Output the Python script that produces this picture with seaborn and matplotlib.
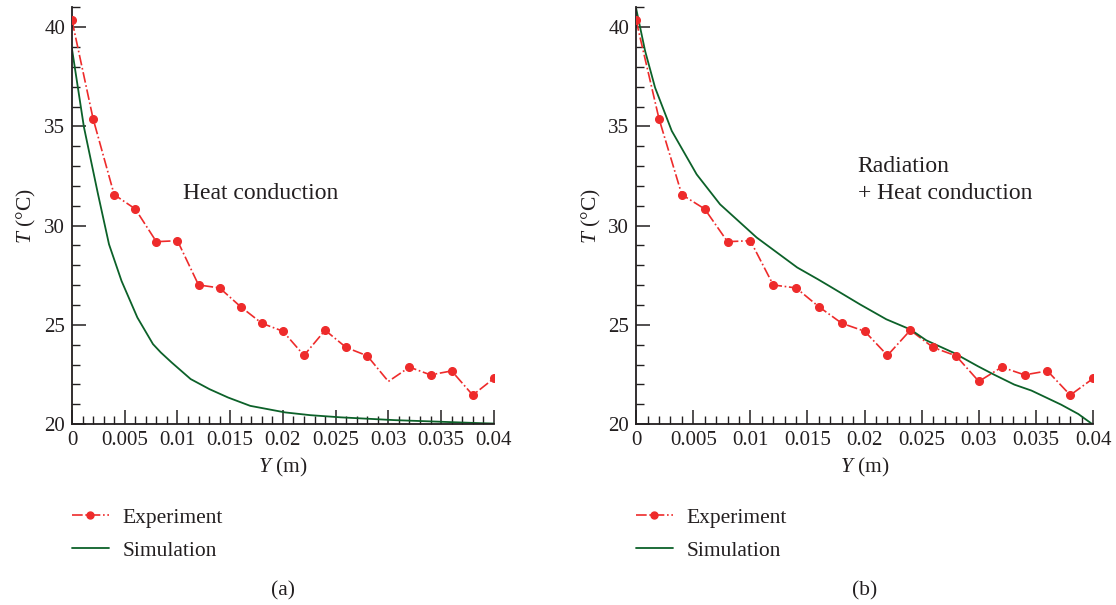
import matplotlib
matplotlib.use("Agg")
import matplotlib.pyplot as plt
from matplotlib.lines import Line2D
from matplotlib.ticker import MultipleLocator, FuncFormatter
import seaborn as sns
import pandas as pd

# --- data ---
exp_y = [0.0, 0.002, 0.004, 0.006, 0.008, 0.010, 0.012, 0.014, 0.016, 0.018,
         0.020, 0.022, 0.024, 0.026, 0.028, 0.030, 0.032, 0.034, 0.036, 0.038, 0.040]
exp_t = [40.34, 35.39, 31.56, 30.84, 29.19, 29.24, 27.01, 26.86, 25.91, 25.08,
         24.68, 23.46, 24.73, 23.86, 23.44, 22.15, 22.87, 22.48, 22.68, 21.46, 22.30]
# panel (a) has no marker at 0.03
exp_marked_a = [True] * 15 + [False] + [True] * 5

sim_a_y = [0.0, 0.00113, 0.00247, 0.00351, 0.0047, 0.0062, 0.00768, 0.00842,
           0.00946, 0.01125, 0.01304, 0.0148, 0.0169, 0.0202, 0.0226, 0.0255,
           0.0306, 0.0386, 0.040]
sim_a_t = [38.9, 34.97, 31.58, 29.06, 27.21, 25.37, 24.03, 23.61,
           23.1, 22.27, 21.76, 21.34, 20.92, 20.59, 20.45, 20.34,
           20.2, 20.05, 20.03]

sim_b_y = [0.0, 0.00079, 0.00166, 0.00312, 0.0053, 0.00735, 0.01055, 0.0141,
           0.0159, 0.0169, 0.0196, 0.0219, 0.024, 0.0254, 0.0278, 0.0299,
           0.0313, 0.0331, 0.0346, 0.0372, 0.0387, 0.040]
sim_b_t = [40.94, 38.79, 36.95, 34.77, 32.58, 31.07, 29.4, 27.89,
           27.30, 26.96, 26.03, 25.28, 24.77, 24.22, 23.59, 22.92,
           22.5, 21.99, 21.69, 20.98, 20.51, 19.97]

panel_notes = [["Heat conduction"], ["Radiation", "+ Heat conduction"]]
panel_tags = ["(a)", "(b)"]

RED = "#ee2b2b"
GREEN = "#0c6129"
INK = "#231f20"

sns.set_style("ticks")
plt.rcParams["font.family"] = ["Liberation Serif", "DejaVu Serif"]
plt.rcParams["mathtext.fontset"] = "custom"
plt.rcParams["mathtext.rm"] = "Liberation Serif"
plt.rcParams["mathtext.it"] = "Liberation Serif:italic"
plt.rcParams["text.color"] = INK
plt.rcParams["axes.labelcolor"] = INK
plt.rcParams["xtick.color"] = INK
plt.rcParams["ytick.color"] = INK

fig = plt.figure(figsize=(11.16, 6.05), dpi=100)
axes = [fig.add_axes([0.0645, 0.299, 0.378, 0.689]),
        fig.add_axes([0.570, 0.299, 0.4095, 0.689])]

exp_df = pd.DataFrame({"Y": exp_y, "T": exp_t})
sims = [pd.DataFrame({"Y": sim_a_y, "T": sim_a_t}),
        pd.DataFrame({"Y": sim_b_y, "T": sim_b_t})]

for i, ax in enumerate(axes):
    # experiment: dash-dot line plus dots
    sns.lineplot(data=exp_df, x="Y", y="T", ax=ax, color=RED, linestyle="-.",
                 linewidth=1.2, sort=False)
    marked = exp_df if i == 1 else exp_df[exp_marked_a]
    ax.plot(marked["Y"], marked["T"], "o", color=RED, markersize=5.5, zorder=4)
    sns.lineplot(data=sims[i], x="Y", y="T", ax=ax, color=GREEN, linewidth=1.3,
                 sort=False)

    ax.set_xlim(0, 0.04)
    ax.set_ylim(20, 41)
    ax.xaxis.set_major_locator(MultipleLocator(0.005))
    ax.xaxis.set_minor_locator(MultipleLocator(0.001))
    ax.yaxis.set_major_locator(MultipleLocator(5))
    ax.yaxis.set_minor_locator(MultipleLocator(1))
    ax.xaxis.set_major_formatter(FuncFormatter(lambda v, p: f"{v:g}"))
    ax.tick_params(which="major", direction="in", length=10, width=1.1,
                   labelsize=15, pad=5)
    ax.tick_params(which="minor", direction="in", length=6, width=1.0)
    for side in ["top", "right"]:
        ax.spines[side].set_visible(False)
    for side in ["left", "bottom"]:
        ax.spines[side].set_linewidth(1.3)
        ax.spines[side].set_color(INK)
    ax.set_xlabel("$Y$ (m)", fontsize=15.5, labelpad=4)
    ax.set_ylabel("$T$ (°C)", fontsize=15.5, labelpad=4)

    leg_handles = [
        Line2D([], [], color=RED, linestyle="-.", linewidth=1.2, marker="o",
               markersize=5),
        Line2D([], [], color=GREEN, linewidth=1.3),
    ]
    ax.legend(leg_handles, ["Experiment", "Simulation"], loc="upper left",
              bbox_to_anchor=(0.0, -0.20), frameon=False, fontsize=15.5,
              borderpad=0, borderaxespad=0, handlelength=1.7,
              handletextpad=0.65, labelspacing=0.62)

    ax.text(0.5, -0.40, panel_tags[i], transform=ax.transAxes, ha="center",
            va="center", fontsize=15.5)

axes[0].text(0.0105, 31.6, panel_notes[0][0], fontsize=17, va="center")
axes[1].text(0.0194, 33.0, panel_notes[1][0], fontsize=17, va="center")
axes[1].text(0.0194, 31.6, panel_notes[1][1], fontsize=17, va="center")

fig.savefig("out.png", dpi=100, facecolor="white")
